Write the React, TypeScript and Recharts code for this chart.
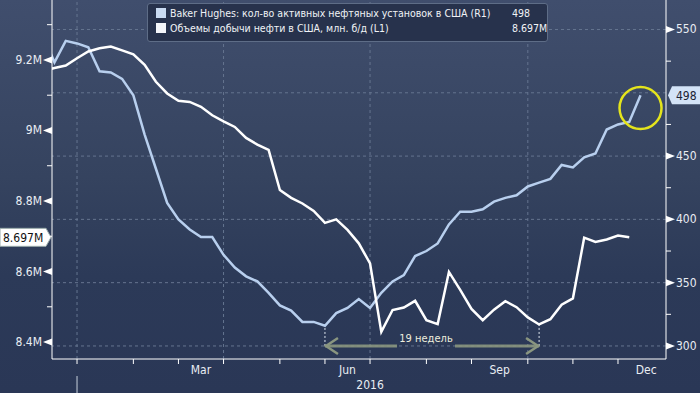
import React from "react";
import { LineChart, Line, XAxis, YAxis, ReferenceLine, ReferenceDot } from "recharts";

// week index: 0 = first week of Jan 2016 (weekly points)
const weeks = [
  -3, -2, -1, 0, 1, 2, 3, 4, 5, 6, 7, 8, 9, 10, 11, 12, 13, 14, 15, 16, 17, 18, 19, 20, 21, 22, 23, 24, 25,
  26, 27, 28, 29, 30, 31, 32, 33, 34, 35, 36, 37, 38, 39, 40, 41, 42, 43, 44, 45, 46, 47, 48, 49, 50,
];

// Baker Hughes active oil rigs (R1)
const bhRigs = [
  545, 524, 541, 539, 536, 517, 516, 511, 498, 467, 440, 413, 400, 392, 386, 386, 372, 362, 355, 351, 342, 332,
  328, 319, 319, 316, 326, 330, 337, 330, 342, 351, 356, 371, 375, 381, 396, 406, 406, 408, 414, 417, 419, 426,
  429, 432, 443, 441, 449, 452, 471, 475, 477, 498,
];

// US crude output, mln b/d (L1)
const oilOutput = [
  9.17, 9.177, 9.184, 9.205, 9.224, 9.233, 9.238, 9.227, 9.216, 9.186, 9.138, 9.105, 9.084, 9.081, 9.067, 9.043,
  9.026, 9.01, 8.979, 8.96, 8.945, 8.831, 8.809, 8.793, 8.772, 8.738, 8.748, 8.718, 8.68, 8.623, 8.429, 8.491,
  8.498, 8.517, 8.462, 8.451, 8.599, 8.548, 8.494, 8.462, 8.492, 8.516, 8.499, 8.47, 8.45, 8.465, 8.506, 8.524,
  8.696, 8.684, 8.691, 8.702, 8.697, null,
];

const leftTicks = [8.4, 8.5, 8.6, 8.7, 8.8, 8.9, 9.0, 9.1, 9.2, 9.3];
const rightTicks = [300, 325, 350, 375, 400, 425, 450, 475, 500, 525, 550];
const gridRight = [300, 350, 400, 450, 500, 550];
const monthStarts = [0, 5, 9, 13, 18, 22, 26, 31, 35, 40, 44, 48];
const quarterStarts = [0, 13, 26, 40];
const monthLabels = [
  { k: 11, text: "Mar" },
  { k: 24, text: "Jun" },
  { k: 37.5, text: "Sep" },
  { k: 50.5, text: "Dec" },
];
const yearLabel = { k: 26, text: "2016" };

const data = weeks.map((k, i) => ({ k, bh: bhRigs[i], oil: oilOutput[i] }));

const FONT = '"DejaVu Sans Condensed", "DejaVu Sans", sans-serif';
const TXT = "#e9edf3";
const GRID = "#65748f";

const LeftTick = ({ x, y, payload }: any) => {
  const v = payload.value;
  const major = Math.round(v * 10) % 2 === 0;
  if (!major) return <line x1={x - 5} y1={y} x2={x} y2={y} stroke="#fff" />;
  const label = (Number.isInteger(v) ? String(v) : v.toFixed(1)) + "M";
  return (
    <g>
      <polygon points={`${x - 9},${y} ${x},${y - 3.5} ${x},${y + 3.5}`} fill="#fff" />
      <text x={x - 10} y={y + 4} textAnchor="end" fill={TXT} fontSize={12} fontFamily={FONT}>
        {label}
      </text>
    </g>
  );
};

const RightTick = ({ x, y, payload }: any) => {
  const v = payload.value;
  if (v === 500) return <g />; // hidden under the 498 flag
  if (v % 50 !== 0) return <line x1={x} y1={y} x2={x + 5} y2={y} stroke="#fff" />;
  return (
    <g>
      <polygon points={`${x + 9},${y} ${x},${y - 3.5} ${x},${y + 3.5}`} fill="#fff" />
      <text x={x + 10} y={y + 4} textAnchor="start" fill={TXT} fontSize={12} fontFamily={FONT}>
        {v}
      </text>
    </g>
  );
};

const MonthTick = ({ x, y }: any) => <line x1={x} y1={y} x2={x} y2={y + 5} stroke="#fff" />;

const LabelTick = ({ x, y, payload }: any) => {
  const v = payload.value;
  if (v === 0) return <line x1={x} y1={y + 9} x2={x} y2={y + 30} stroke="#c8d0dc" />;
  if (v === yearLabel.k)
    return (
      <text x={x} y={y + 22} textAnchor="middle" fill={TXT} fontSize={12} fontFamily={FONT}>
        {yearLabel.text}
      </text>
    );
  const m = monthLabels.find((d) => d.k === v);
  return (
    <text x={x} y={y + 7} textAnchor="middle" fill={TXT} fontSize={12} fontFamily={FONT}>
      {m ? m.text : ""}
    </text>
  );
};

// "19 недель" arrow between two weeks
const ArrowShape = ({ x1, y1, x2 }: any) => {
  const mid = (x1 + x2) / 2 - 7;
  const c = "#8a9680";
  return (
    <g>
      <line x1={x1} y1={y1} x2={mid - 28} y2={y1} stroke={c} strokeWidth={3} strokeOpacity={0.9} />
      <line x1={mid + 30} y1={y1} x2={x2} y2={y1} stroke={c} strokeWidth={3} strokeOpacity={0.9} />
      <polyline points={`${x1 + 13},${y1 - 8} ${x1 + 1},${y1} ${x1 + 13},${y1 + 8}`} fill="none" stroke={c} strokeWidth={2.5} />
      <polyline points={`${x2 - 13},${y1 - 8} ${x2 - 1},${y1} ${x2 - 13},${y1 + 8}`} fill="none" stroke={c} strokeWidth={2.5} />
      <text x={mid + 1} y={y1 - 4} textAnchor="middle" fill="#eeeede" fontSize={11} fontFamily={FONT}>
        19 недель
      </text>
    </g>
  );
};

const LeftFlag = ({ x1, x2, y1 }: any) => {
  const x = Math.min(x1, x2);
  return (
    <g>
      <polygon
        points={`0,${y1 - 9} ${x - 6},${y1 - 9} ${x - 1},${y1} ${x - 6},${y1 + 9} 0,${y1 + 9}`}
        fill="#fff"
        stroke="#9aa"
      />
      <text x={3} y={y1 + 4.5} fill="#111" fontSize={12} fontFamily={FONT}>
        8.697M
      </text>
    </g>
  );
};

const RightFlag = ({ x1, x2, y1 }: any) => {
  const x = Math.max(x1, x2);
  return (
    <g>
      <polygon
        points={`${x + 2},${y1} ${x + 6},${y1 - 9} 700,${y1 - 9} 700,${y1 + 9} ${x + 6},${y1 + 9}`}
        fill="#d3e3f7"
      />
      <text x={x + 10} y={y1 + 4.5} fill="#1b2233" fontSize={12} fontFamily={FONT}>
        498
      </text>
    </g>
  );
};

export default function App() {
  return (
    <div
      style={{
        position: "absolute",
        left: 0,
        top: 0,
        width: 700,
        height: 393,
        background: "linear-gradient(180deg, #404e6d 0%, #35435f 45%, #2c3a58 70%, #2a3756 100%)",
        fontFamily: FONT,
      }}
    >
      <LineChart width={700} height={393} data={data} margin={{ top: 0, right: 0, bottom: 0, left: 0 }}>
        <XAxis
          dataKey="k"
          type="number"
          domain={[-2.22, 52.26]}
          allowDataOverflow
          ticks={monthStarts}
          interval={0}
          height={8}
          tickSize={0}
          tickMargin={0}
          tickLine={false}
          tick={MonthTick}
          axisLine={{ stroke: "#fff" }}
        />
        <XAxis
          xAxisId="lbl"
          dataKey="k"
          type="number"
          domain={[-2.22, 52.26]}
          allowDataOverflow
          ticks={[0, ...monthLabels.map((d) => d.k), yearLabel.k]}
          interval={0}
          height={26}
          tickSize={0}
          tickMargin={0}
          tickLine={false}
          axisLine={false}
          tick={LabelTick}
        />
        <YAxis
          yAxisId="L"
          orientation="left"
          width={52}
          domain={[8.352, 9.37]}
          allowDataOverflow
          ticks={leftTicks}
          interval={0}
          tickSize={0}
          tickMargin={0}
          tickLine={false}
          tick={LeftTick}
          axisLine={{ stroke: "#fff" }}
        />
        <YAxis
          yAxisId="R"
          orientation="right"
          width={34}
          domain={[289.7, 573.3]}
          allowDataOverflow
          ticks={rightTicks}
          interval={0}
          tickSize={0}
          tickMargin={0}
          tickLine={false}
          tick={RightTick}
          axisLine={{ stroke: "#fff" }}
        />

        {gridRight.map((v) => (
          <ReferenceLine key={"h" + v} yAxisId="R" y={v} stroke={GRID} strokeDasharray="3 3" />
        ))}
        {quarterStarts.map((k) => (
          <ReferenceLine key={"v" + k} yAxisId="R" x={k} stroke={GRID} strokeDasharray="3 3" />
        ))}

        <ReferenceLine yAxisId="R" segment={[{ x: 22, y: 300 }, { x: 22, y: 316 }]} stroke="#dfe6ef" strokeDasharray="2 2" />
        <ReferenceLine yAxisId="R" segment={[{ x: 41, y: 300 }, { x: 41, y: 317 }]} stroke="#dfe6ef" strokeDasharray="2 2" />
        <ReferenceLine yAxisId="R" segment={[{ x: 22, y: 300 }, { x: 41, y: 300 }]} shape={ArrowShape} />

        <Line
          yAxisId="R"
          dataKey="bh"
          stroke="#b8cfee"
          strokeWidth={2.5}
          dot={false}
          isAnimationActive={false}
        />
        <Line
          yAxisId="L"
          dataKey="oil"
          stroke="#ffffff"
          strokeWidth={2.5}
          dot={false}
          isAnimationActive={false}
        />

        <ReferenceDot yAxisId="R" x={50} y={488} r={21} fill="none" stroke="#e4e41c" strokeWidth={2.5} />
        <ReferenceLine yAxisId="L" y={8.697} stroke="none" shape={LeftFlag} />
        <ReferenceLine yAxisId="R" y={498} stroke="none" shape={RightFlag} />
      </LineChart>

      <div
        style={{
          position: "absolute",
          left: 147,
          top: 3,
          width: 401,
          height: 39,
          boxSizing: "border-box",
          background: "#27324c",
          border: "1px solid #5e6d87",
          borderRadius: 3,
          color: "#f0f2f6",
          fontSize: 10.5,
          lineHeight: "15px",
          fontFamily: FONT,
        }}
      >
        <div style={{ position: "absolute", left: 8, top: 4, width: 10, height: 10, background: "#c9dbf2" }} />
        <div style={{ position: "absolute", left: 22, top: 2, whiteSpace: "nowrap" }}>
          Baker Hughes: кол-во активных нефтяных установок в США (R1)
        </div>
        <div style={{ position: "absolute", left: 364, top: 2 }}>498</div>
        <div style={{ position: "absolute", left: 8, top: 19, width: 10, height: 10, background: "#f4f6fa" }} />
        <div style={{ position: "absolute", left: 22, top: 17, whiteSpace: "nowrap" }}>
          Объемы добычи нефти в США, млн. б/д (L1)
        </div>
        <div style={{ position: "absolute", left: 364, top: 17 }}>8.697M</div>
      </div>
    </div>
  );
}
